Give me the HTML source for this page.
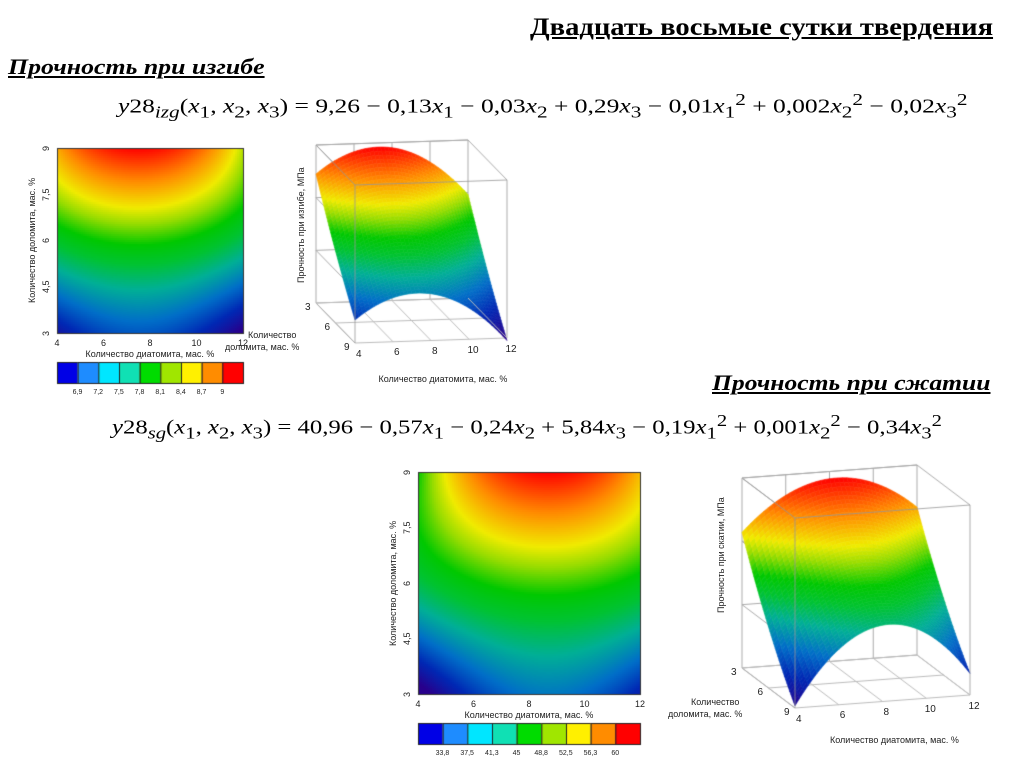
<!DOCTYPE html>
<html><head><meta charset="utf-8">
<style>
body{margin:0;background:#fff;width:1024px;height:767px;position:relative;overflow:hidden;font-family:"Liberation Sans",sans-serif;}
.t{position:absolute;white-space:nowrap;transform-origin:0 0;color:#000;}
.ttl{font-family:"Liberation Serif",serif;font-weight:bold;text-decoration:underline;}
.eq{font-family:"Liberation Serif",serif;font-size:20px;}
.eq i{font-style:italic}
.sm{font-size:9px;color:#222;}
.rot{transform:rotate(-90deg);transform-origin:0 0;}
canvas{position:absolute;left:0;top:0;}
</style></head><body>
<canvas id="cv" width="1024" height="767"></canvas>

<div class="t ttl fit" data-w="463" style="left:530px;top:14px;font-size:25px;">Двадцать восьмые сутки твердения</div>
<div class="t ttl fit" data-w="257" style="left:8px;top:54px;font-size:22px;font-style:italic;">Прочность при изгибе</div>
<div class="t eq fit" data-w="850" style="left:118px;top:90px;"><i>y</i>28<sub><i>izg</i></sub>(<i>x</i><sub>1</sub>, <i>x</i><sub>2</sub>, <i>x</i><sub>3</sub>) = 9,26 − 0,13<i>x</i><sub>1</sub> − 0,03<i>x</i><sub>2</sub> + 0,29<i>x</i><sub>3</sub> − 0,01<i>x</i><sub>1</sub><sup>2</sup> + 0,002<i>x</i><sub>2</sub><sup>2</sup> − 0,02<i>x</i><sub>3</sub><sup>2</sup></div>
<div class="t ttl fit" data-w="278" style="left:712px;top:370px;font-size:22px;font-style:italic;">Прочность при сжатии</div>
<div class="t eq fit" data-w="830" style="left:112px;top:411px;"><i>y</i>28<sub><i>sg</i></sub>(<i>x</i><sub>1</sub>, <i>x</i><sub>2</sub>, <i>x</i><sub>3</sub>) = 40,96 − 0,57<i>x</i><sub>1</sub> − 0,24<i>x</i><sub>2</sub> + 5,84<i>x</i><sub>3</sub> − 0,19<i>x</i><sub>1</sub><sup>2</sup> + 0,001<i>x</i><sub>2</sub><sup>2</sup> − 0,34<i>x</i><sub>3</sub><sup>2</sup></div>

<div id="labels"></div>

<script>
// ---- data ----
const xTicks = [4, 6, 8, 10, 12];
const yTicks = [3, 4.5, 6, 7.5, 9];
const yTickLabels = ["3", "4,5", "6", "7,5", "9"];
const depthTicks = [3, 6, 9];
// response-surface coefficients: [a, x0, b1, r1, r2, s, p, q]
const izgCoef = [9.1, 7.5, -0.04, 0.0142, -0.0021, 0, -0.375, 0.0083];
const sgCoef = [61, 8.7, -0.6, 0.249, -0.038, 0, -4.4, 0.132];
const izgSurfCoef = [9.1, 7.3, -0.04, 0, 0, 0, -0.357, 0.0078];
const sgSurfCoef = [61, 8.3, -0.42, -0.04, 0, 0, -3.77, 0.144];
const izgRange = [6.6, 9.1];
const sgRange = [31, 61];
const izgLegend = ["6,9", "7,2", "7,5", "7,8", "8,1", "8,4", "8,7", "9"];
const sgLegend = ["33,8", "37,5", "41,3", "45", "48,8", "52,5", "56,3", "60"];
const legendColors = ["#0000e6", "#1e8cff", "#00e6ff", "#10e0b4", "#00dc00", "#a0e600", "#fff000", "#ff8c00", "#ff0000"];

const stops=[[0,[40,0,140]],[0.14,[0,40,180]],[0.26,[0,110,200]],[0.38,[0,175,150]],[0.48,[0,195,50]],[0.56,[0,200,0]],[0.65,[150,220,0]],[0.72,[240,235,0]],[0.84,[255,140,0]],[1,[255,0,0]]];
function cmap(v,r){const t=Math.max(0,Math.min(1,(v-r[0])/(r[1]-r[0])));
  for(let i=1;i<stops.length;i++){if(t<=stops[i][0]){const a=stops[i-1],b=stops[i];const f=(t-a[0])/(b[0]-a[0]);return 'rgb('+a[1].map((c,k)=>Math.round(c+(b[1][k]-c)*f)).join(',')+')';}}
  return 'rgb(255,0,0)';}
function model(c,x,y){const d=9-y,dx=x-c[1];const K=c[2]+c[3]*d+c[4]*d*d;return c[0]+K*dx*dx+c[5]*d*dx+c[6]*d+c[7]*d*d;}

const cv=document.getElementById('cv');const ctx=cv.getContext('2d');
const L=document.getElementById('labels');
function lab(txt,x,y,name,opt){opt=opt||{};const e=document.createElement('div');e.className='t sm'+(opt.rot?' rot':'');e.textContent=txt;


if(opt.size)e.style.fontSize=opt.size+'px';L.appendChild(e);const w=e.offsetWidth,h=e.offsetHeight;
if(opt.rot){e.style.left=(x-h/2)+'px';e.style.top=(y+w/2)+'px';}else{const al=opt.al||'c';e.style.left=(al==='c'?x-w/2:al==='r'?x-w:x)+'px';e.style.top=(y-h/2)+'px';}}

function heatmap(c,rng,px0,py0,pw,ph,legend,name){
  const xs=v=>px0+(v-4)/8*pw, ys=v=>py0+ph-(v-3)/6*ph;
  const step=2;
  for(let i=0;i<pw;i+=step)for(let j=0;j<ph;j+=step){const x=4+(i+1)/pw*8,y=9-(j+1)/ph*6;
    ctx.fillStyle=cmap(model(c,x,y),rng);ctx.fillRect(px0+i,py0+j,step,step);}
  ctx.strokeStyle='#333';ctx.lineWidth=1;ctx.strokeRect(px0+.5,py0+.5,pw,ph);
  xTicks.forEach(v=>lab(String(v),xs(v),py0+ph+10,name+'-x-tick-'+v));
  yTicks.forEach((v,i)=>lab(yTickLabels[i],px0-11,ys(v),name+'-y-tick-'+v,{rot:1}));
  lab('Количество диатомита, мас. %',px0+pw/2,py0+ph+21,name+'-x-title');
  lab('Количество  доломита, мас. %',px0-25,py0+ph/2,name+'-y-title',{rot:1});
  const ly=py0+ph+29,bw=pw/legendColors.length;
  legendColors.forEach((col,i)=>{ctx.fillStyle=col;ctx.fillRect(px0+i*bw,ly,bw,21);ctx.strokeStyle='#222';ctx.strokeRect(px0+i*bw+.5,ly+.5,bw,21);});
  legend.forEach((t,i)=>lab(t,px0+(i+1)*bw,ly+30,name+'-legend-label-'+i,{size:7}));
}
heatmap(izgCoef,izgRange,57,148,186,185,izgLegend,'bending-heatmap');
heatmap(sgCoef,sgRange,418,472,222,222,sgLegend,'compression-heatmap');

function surface(c,rng,O,X,D,H,ppu,name,ytitle,ytx,yty,dlx,dly){
  const P=(xf,df,z)=>[O[0]+xf*X[0]+df*D[0],O[1]+xf*X[1]+df*D[1]-z];
  const line=(a,b,col)=>{ctx.strokeStyle=col||'#aaa';ctx.lineWidth=1;ctx.beginPath();ctx.moveTo(a[0],a[1]);ctx.lineTo(b[0],b[1]);ctx.stroke();};
  for(let k=0;k<=4;k++){const xf=k/4;line(P(xf,0,0),P(xf,0,H));line(P(xf,0,0),P(xf,1,0),'#bbb');}
  for(let k=0;k<=3;k++){const z=H*k/3;line(P(0,0,z),P(1,0,z));line(P(0,0,z),P(0,1,z));}
  for(let k=0;k<=2;k++){line(P(0,k/2,0),P(1,k/2,0),'#bbb');}
  const N=40;
  const Z=(xf,df)=>(model(c,4+8*xf,9-6*df)-rng[0])*ppu;
  for(let j=0;j<N;j++)for(let i=0;i<N;i++){
    const a=i/N,b=(i+1)/N,d0=j/N,d1=(j+1)/N;
    const v=model(c,4+8*(a+b)/2,9-6*(d0+d1)/2);
    const pts=[P(a,d0,Z(a,d0)),P(b,d0,Z(b,d0)),P(b,d1,Z(b,d1)),P(a,d1,Z(a,d1))];
    ctx.fillStyle=cmap(v,rng);ctx.strokeStyle=ctx.fillStyle;ctx.lineWidth=0.6;
    ctx.beginPath();pts.forEach((p,k)=>k?ctx.lineTo(p[0],p[1]):ctx.moveTo(p[0],p[1]));ctx.closePath();ctx.fill();ctx.stroke();}
  const fc='rgba(150,150,150,0.8)';
  line(P(0,1,0),P(0,1,H),fc);line(P(1,1,0),P(1,1,H),fc);
  line(P(0,1,H),P(1,1,H),fc);line(P(0,0,H),P(0,1,H),fc);line(P(1,0,H),P(1,1,H),fc);
  line(P(0,0,H),P(1,0,H));line(P(1,0,0),P(1,1,0),'#bbb');
  xTicks.forEach((v,k)=>{const p=P(k/4,1,0);lab(String(v),p[0]+4,p[1]+11,name+'-x-tick-'+v,{size:10});});
  depthTicks.forEach((v,k)=>{const p=P(0,k/2,0);lab(String(v),p[0]-8,p[1]+4,name+'-depth-tick-'+v,{size:10});});
  lab('Количество диатомита, мас. %',P(0.5,1,0)[0]+12,P(0.5,1,0)[1]+38,name+'-x-title');
  lab('Количество',dlx-30,dly,name+'-depth-title-1');
  lab('доломита, мас. %',dlx-40,dly+12,name+'-depth-title-2');
  lab(ytitle,ytx,yty,name+'-z-title',{rot:1});
}
surface(izgSurfCoef,[6.4,9.1],[316,303],[152,-5],[39,40],158,57,'bending-surface','Прочность при изгибе, МПа',301,225,302,335);
surface(sgSurfCoef,sgRange,[742,668],[175,-13],[53,40],190,6.1,'compression-surface','Прочность при скатии, МПа',721,555,745,702);

document.querySelectorAll('.fit').forEach(e=>{const w=e.offsetWidth;e.style.transform='scaleX('+(+e.dataset.w/w)+')';});
</script>
</body></html>
